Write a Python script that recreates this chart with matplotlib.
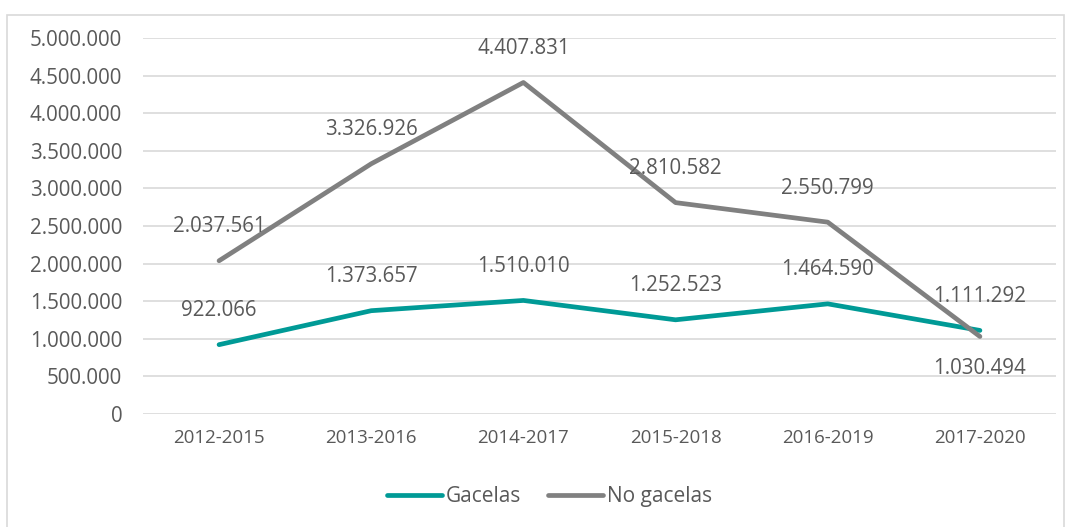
import matplotlib
matplotlib.use("Agg")
import matplotlib.pyplot as plt
from matplotlib.ticker import FuncFormatter
from matplotlib.patches import Rectangle

periods = ["2012-2015", "2013-2016", "2014-2017", "2015-2018", "2016-2019", "2017-2020"]
gacelas = [922066, 1373657, 1510010, 1252523, 1464590, 1111292]
no_gacelas = [2037561, 3326926, 4407831, 2810582, 2550799, 1030494]
label_below_no = [False, False, False, False, False, True]

plt.rcParams['font.family'] = ['Open Sans', 'DejaVu Sans']

teal = "#009A96"
gray = "#808080"
txt = "#595959"

fig = plt.figure(figsize=(10.71, 5.27), dpi=100)
ax = fig.add_axes([0.1335, 0.2144, 0.8525, 0.7136])

x = list(range(len(periods)))
ax.plot(x, gacelas, color=teal, lw=3.4, solid_capstyle='round', label="Gacelas", zorder=3)
ax.plot(x, no_gacelas, color=gray, lw=3.4, solid_capstyle='round', label="No gacelas", zorder=3)

def fmt(v):
    return f"{v:,.0f}".replace(",", ".")

for i, v in enumerate(gacelas):
    ax.annotate(fmt(v), (i, v), xytext=(0, 34), textcoords='offset pixels',
                ha='center', va='center', fontsize=14.8, color=txt, zorder=4)
for i, v in enumerate(no_gacelas):
    off = -32 if label_below_no[i] else 34
    ax.annotate(fmt(v), (i, v), xytext=(0, off), textcoords='offset pixels',
                ha='center', va='center', fontsize=14.8, color=txt, zorder=4)

ax.set_xlim(-0.5, len(periods) - 0.5)
ax.set_ylim(0, 5000000)
ax.set_yticks(range(0, 5000001, 500000))
ax.yaxis.set_major_formatter(FuncFormatter(lambda v, p: fmt(v)))
ax.set_xticks(x)
ax.set_xticklabels(periods)
ax.tick_params(axis='y', length=0, labelsize=14.8, labelcolor=txt, pad=15)
ax.tick_params(axis='x', length=0, labelsize=13.5, labelcolor=txt, pad=11)
ax.grid(axis='y', color="#D9D9D9", lw=1.2)
ax.set_axisbelow(True)
for s in ax.spines.values():
    s.set_visible(False)

leg = fig.legend(loc='center', bbox_to_anchor=(0.513, 0.058), ncol=2, frameon=False,
                 fontsize=15, handlelength=2.65, handletextpad=0.2, columnspacing=1.25)
for t in leg.get_texts():
    t.set_color(txt)

fig.patches.append(Rectangle((7/1071, -0.01), (1064-7)/1071, (517)/527, transform=fig.transFigure,
                             fill=False, edgecolor="#D9D9D9", lw=1.2))

fig.savefig("out.png", dpi=100)
